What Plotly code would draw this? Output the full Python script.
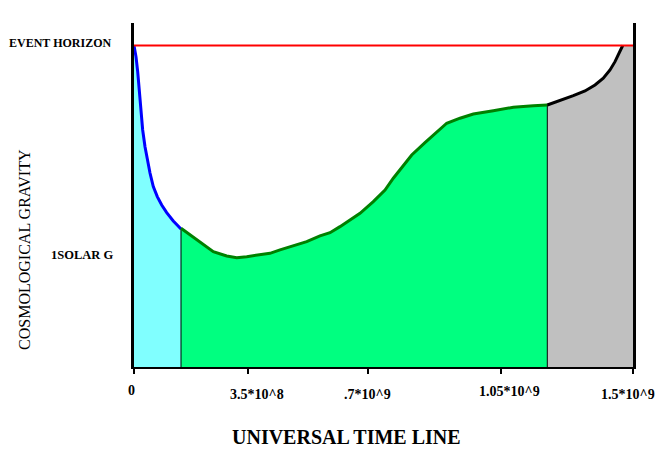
import plotly.graph_objects as go

# time in units of 10^8 years, gravity in units of 1 solar G
early_t = [0, 0.060, 0.111, 0.159, 0.210, 0.261, 0.331, 0.400, 0.481, 0.580, 0.700, 0.833, 0.983, 1.181, 1.413]
early_g = [2.87, 2.771, 2.637, 2.446, 2.268, 2.116, 1.967, 1.848, 1.732, 1.610, 1.521, 1.446, 1.378, 1.304, 1.232]

mid_t = [1.413, 1.683, 1.984, 2.384, 2.787, 3.087, 3.388, 3.788, 4.088, 4.389, 4.789, 5.191, 5.591, 5.892,
         6.192, 6.493, 6.794, 7.193, 7.545, 7.795, 8.047, 8.348, 8.747, 9.099, 9.400, 9.800, 10.200, 10.801,
         11.402, 12.003, 12.424]
mid_g = [1.238, 1.179, 1.110, 1.029, 0.991, 0.976, 0.985, 1.000, 1.015, 1.045, 1.083, 1.119, 1.170, 1.199,
         1.253, 1.313, 1.372, 1.476, 1.580, 1.685, 1.783, 1.893, 2.003, 2.101, 2.176, 2.221, 2.259, 2.288,
         2.319, 2.333, 2.339]

late_t = [12.424, 12.806, 13.206, 13.557, 13.858, 14.107, 14.309, 14.459, 14.589, 14.691]
late_g = [2.339, 2.378, 2.422, 2.464, 2.518, 2.578, 2.652, 2.726, 2.806, 2.87]

t_end = 15.0
event_horizon = 2.87
solar_g = 1.0
y_top = 3.071

tick_pos = [0, 3.43, 7.03, 11.03, 15.0]
tick_text = ["0", "3.5*10^8", ".7*10^9", "1.05*10^9", "1.5*10^9"]
tick_dx = [-3, 9, 0, 9, -5]
tick_dy = [-23, -27, -27, -24, -27]

FONT = "Liberation Serif"

fig = go.Figure()

# fills
fig.add_trace(go.Scatter(x=early_t, y=early_g, fill="tozeroy", fillcolor="#80FFFF",
                         mode="lines", line=dict(width=0), hoverinfo="skip"))
fig.add_trace(go.Scatter(x=mid_t, y=mid_g, fill="tozeroy", fillcolor="#00FF80",
                         mode="lines", line=dict(width=0), hoverinfo="skip"))
fig.add_trace(go.Scatter(x=late_t + [t_end], y=late_g + [event_horizon], fill="tozeroy", fillcolor="#C0C0C0",
                         mode="lines", line=dict(width=0), hoverinfo="skip"))

# dividers
fig.add_trace(go.Scatter(x=[early_t[-1], early_t[-1]], y=[0, early_g[-1]], mode="lines",
                         line=dict(color="black", width=1)))
fig.add_trace(go.Scatter(x=[mid_t[-1], mid_t[-1]], y=[0, mid_g[-1]], mode="lines",
                         line=dict(color="black", width=1)))

# curves
fig.add_trace(go.Scatter(x=early_t, y=early_g, mode="lines", line=dict(color="#0000FF", width=3)))
fig.add_trace(go.Scatter(x=mid_t, y=mid_g, mode="lines", line=dict(color="#008000", width=3)))
fig.add_trace(go.Scatter(x=late_t, y=late_g, mode="lines", line=dict(color="black", width=3)))

# event horizon line
fig.add_trace(go.Scatter(x=[0, t_end], y=[event_horizon, event_horizon], mode="lines",
                         line=dict(color="#FF0000", width=2)))

annotations = []
for p, t, dx, dy in zip(tick_pos, tick_text, tick_dx, tick_dy):
    annotations.append(dict(x=p, y=0, xref="x", yref="y", text=t, showarrow=False,
                            xanchor="center", yanchor="middle", xshift=dx, yshift=dy,
                            font=dict(family=FONT, size=14, color="black", weight="bold")))
annotations.append(dict(x=0, y=event_horizon, xref="x", yref="y", text="EVENT HORIZON", showarrow=False,
                        xanchor="right", yanchor="middle", xshift=-21, yshift=3,
                        font=dict(family=FONT, size=12, color="black", weight="bold")))
annotations.append(dict(x=0, y=solar_g, xref="x", yref="y", text="1SOLAR G", showarrow=False,
                        xanchor="right", yanchor="middle", xshift=-19, yshift=0,
                        font=dict(family=FONT, size=12.5, color="black", weight="bold")))
annotations.append(dict(x=0, y=1.045, xref="x", yref="y", text="COSMOLOGICAL GRAVITY", showarrow=False,
                        textangle=-90, xanchor="center", yanchor="middle", xshift=-109,
                        font=dict(family=FONT, size=16, color="black")))
annotations.append(dict(x=6.373, y=0, xref="x", yref="y", text="UNIVERSAL TIME LINE", showarrow=False,
                        xanchor="center", yanchor="middle", yshift=-70,
                        font=dict(family=FONT, size=20, color="black", weight="bold")))

fig.update_layout(
    width=663, height=469,
    margin=dict(l=126, r=38, t=15, b=110),
    paper_bgcolor="white", plot_bgcolor="white",
    showlegend=False,
    annotations=annotations,
    xaxis=dict(range=[0, t_end], showgrid=False, zeroline=False, showline=True, linecolor="black",
               linewidth=2, tickvals=tick_pos, ticks="outside", ticklen=5, tickwidth=2,
               tickcolor="black", showticklabels=False),
    yaxis=dict(range=[0, y_top], showgrid=False, zeroline=False, showline=True, linecolor="black",
               linewidth=3, mirror=True, ticks="", showticklabels=False),
)

fig.write_html("out.html")
